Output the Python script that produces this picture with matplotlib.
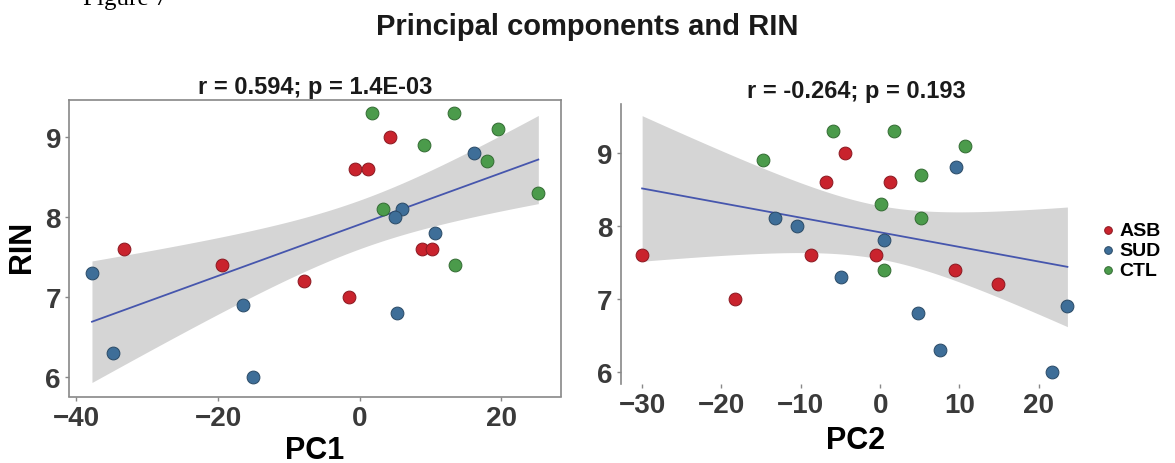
import numpy as np
import matplotlib.pyplot as plt

plt.rcParams['font.family'] = ['Liberation Sans', 'DejaVu Sans']

# samples per group: PC1, PC2 and RIN
groups = ['ASB', 'SUD', 'CTL']
colors = {'ASB': '#c9232d', 'SUD': '#3e6e98', 'CTL': '#4b9b4b'}
edges = {'ASB': '#8a1820', 'SUD': '#2a4a66', 'CTL': '#336b33'}

asb_pc1 = [4.3, -0.7, 1.2, -33.3, 8.8, 10.2, -19.5, -7.9, -1.5]
asb_pc2 = [-4.4, -6.8, 1.3, -30.0, -8.7, -0.5, 9.4, 14.8, -18.3]
asb_rin = [9.0, 8.6, 8.6, 7.6, 7.6, 7.6, 7.4, 7.2, 7.0]

sud_pc1 = [16.1, 5.9, 4.9, 10.6, -37.8, -16.5, 5.3, -34.8, -15.1]
sud_pc2 = [9.6, -13.3, -10.5, 0.5, -4.9, 23.6, 4.8, 7.5, 21.6]
sud_rin = [8.8, 8.1, 8.0, 7.8, 7.3, 6.9, 6.8, 6.3, 6.0]

ctl_pc1 = [1.7, 13.3, 19.5, 9.1, 18.0, 25.2, 3.25, 13.5]
ctl_pc2 = [-6.0, 1.8, 10.7, -14.8, 5.1, 0.1, 5.1, 0.5]
ctl_rin = [9.3, 9.3, 9.1, 8.9, 8.7, 8.3, 8.1, 7.4]

data = {
    'ASB': (asb_pc1, asb_pc2, asb_rin),
    'SUD': (sud_pc1, sud_pc2, sud_rin),
    'CTL': (ctl_pc1, ctl_pc2, ctl_rin),
}

titles = ['r = 0.594; p = 1.4E-03', 'r = -0.264; p = 0.193']

W, H = 1175, 464
fig = plt.figure(figsize=(W / 100, H / 100), dpi=100)


def px(x0, y0, x1, y1):
    # pixel box -> figure fraction
    return [x0 / W, 1 - y1 / H, (x1 - x0) / W, (y1 - y0) / H]


def lm_band(x, y, xs):
    # linear fit with 95% confidence band, like geom_smooth(method='lm')
    x = np.asarray(x, float)
    y = np.asarray(y, float)
    n = len(x)
    b, a = np.polyfit(x, y, 1)
    res = y - (a + b * x)
    s = np.sqrt(np.sum(res ** 2) / (n - 2))
    sxx = np.sum((x - x.mean()) ** 2)
    t = 2.0639  # t(0.975, df=24)
    fit = a + b * xs
    se = s * np.sqrt(1 / n + (xs - x.mean()) ** 2 / sxx)
    return fit, fit - t * se, fit + t * se


ax1 = fig.add_axes(px(69.3, 100.7, 561, 397.5))
ax2 = fig.add_axes(px(620.7, 105, 1092, 385))

all_pc1 = sum([data[g][0] for g in groups], [])
all_pc2 = sum([data[g][1] for g in groups], [])
all_rin = sum([data[g][2] for g in groups], [])

for ax, allx, k in [(ax1, all_pc1, 0), (ax2, all_pc2, 1)]:
    xs = np.linspace(min(allx), max(allx), 100)
    fit, lo, hi = lm_band(allx, all_rin, xs)
    ax.fill_between(xs, lo, hi, color='#d5d5d5', lw=0, zorder=1)
    ax.plot(xs, fit, color='#4656ad', lw=1.3, zorder=2)
    for g in groups:
        ax.scatter(data[g][k], data[g][2], s=85, color=colors[g],
                   edgecolors=edges[g], linewidths=0.7, zorder=3, label=g)
    ax.set_title(titles[k], fontsize=17, fontweight='bold', pad=5,
                 color='#1a1a1a')
    ax.tick_params(labelsize=20, colors='#888888', labelcolor='#3a3a3a',
                   length=3, width=1, pad=3)

ax1.set_xlim(-41.0, 28.4)
ax1.set_ylim(5.75, 9.47)
ax1.set_xticks([-40, -20, 0, 20])
ax1.set_yticks([6, 7, 8, 9])
for sp in ax1.spines.values():
    sp.set_color('#888888')
    sp.set_linewidth(1.2)

ax2.set_xlim(-32.7, 26.7)
ax2.set_ylim(5.83, 9.67)
ax2.set_xticks([-30, -20, -10, 0, 10, 20])
ax2.set_yticks([6, 7, 8, 9])
for side in ['top', 'right', 'bottom']:
    ax2.spines[side].set_visible(False)
ax2.spines['left'].set_color('#888888')
ax2.spines['left'].set_linewidth(1.2)

for ax in (ax1, ax2):
    for lab in ax.get_xticklabels() + ax.get_yticklabels():
        lab.set_fontweight('bold')

ax1.set_xlabel('PC1', fontsize=22, fontweight='bold')
ax1.xaxis.set_label_coords(315 / W, 1 - 436 / H, transform=fig.transFigure)
ax1.set_ylabel('RIN', fontsize=22, fontweight='bold')
ax1.yaxis.set_label_coords(37 / W, 1 - 247 / H, transform=fig.transFigure)
ax2.set_xlabel('PC2', fontsize=22, fontweight='bold')
ax2.xaxis.set_label_coords(856 / W, 1 - 426 / H, transform=fig.transFigure)

fig.legend(*ax2.get_legend_handles_labels(), loc='center left',
           bbox_to_anchor=(1098 / W, 1 - 251 / H), frameon=False,
           prop={'size': 14, 'weight': 'bold'}, handletextpad=0.1,
           labelspacing=0.12, handlelength=1.0, markerscale=0.6,
           borderaxespad=0, borderpad=0)

fig.text(587 / W, 1 - 27 / H, 'Principal components and RIN', fontsize=21,
         fontweight='bold', ha='center', va='center', color='#1a1a1a')
fig.text(83 / W, 1 - 5 / H, 'Figure 7', fontsize=18, family='Liberation Serif',
         ha='left', va='baseline')

fig.savefig('out.png', dpi=100)
